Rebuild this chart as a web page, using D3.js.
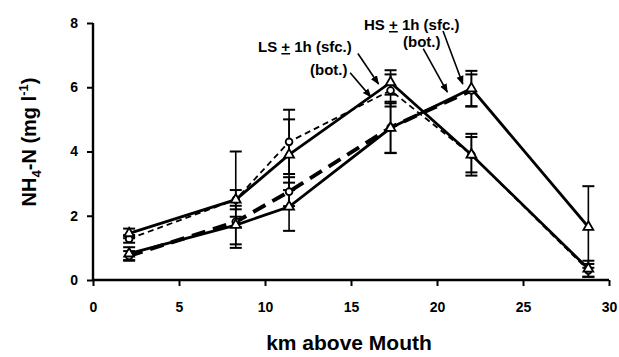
<!DOCTYPE html>
<html><head><meta charset="utf-8">
<script src="https://cdn.jsdelivr.net/npm/d3@7"></script>
<style>
body{margin:0;background:#fff;}
text{font-family:"Liberation Sans",Arial,sans-serif;font-weight:bold;fill:#000;}
</style></head>
<body><svg id="c" width="619" height="357"></svg>
<script>
const km = [2.1, 8.3, 11.4, 17.3, 22.0, 28.8];
const lsSfc = [1.45, 2.5, 3.9, 6.15, 3.9, 0.35];
const lsSfcErr = [0.15, 0.3, 1.1, 0.38, 0.55, 0.25];
const lsBot = [1.28, 2.5, 4.3, 5.9, 3.9, 0.3];
const lsBotErr = [0.12, 1.5, 1.0, 0.5, 0.65, 0.2];
const hsSfc = [0.82, 1.71, 2.28, 4.73, 5.96, 1.65];
const hsSfcErr = [0.2, 0.6, 0.75, 0.77, 0.55, 1.27];
const hsBot = [0.75, 1.81, 2.75, 4.75, 5.9, null];
const hsBotErr = [0.15, 0.16, 0.45, 0.8, 0.5, null];
const xTicks = [0, 5, 10, 15, 20, 25, 30];
const yTicks = [0, 2, 4, 6, 8];

const svg = d3.select("#c");
const x = d3.scaleLinear().domain([0, 30]).range([93, 609]);
const y = d3.scaleLinear().domain([0, 8]).range([280, 23]);

const series = [
  {v: lsBot, e: lsBotErr, w: 1.8, dash: "6,4", m: "circle"},
  {v: hsBot, e: hsBotErr, w: 4, dash: "14,8", m: "circle"},
  {v: lsSfc, e: lsSfcErr, w: 2.8, dash: null, m: "triangle"},
  {v: hsSfc, e: hsSfcErr, w: 2.8, dash: null, m: "triangle"}
];

// error bars
series.forEach(s => {
  const g = svg.append("g");
  km.forEach((k, i) => {
    if (s.v[i] == null || s.e[i] == null) return;
    const cx = x(k), y1 = y(s.v[i] + s.e[i]), y2 = y(Math.max(0, s.v[i] - s.e[i]));
    g.append("line").attr("x1", cx).attr("x2", cx).attr("y1", y1).attr("y2", y2).attr("stroke", "#000").attr("stroke-width", 1.6);
    [y1, y2].forEach(yy => g.append("line").attr("x1", cx - 6).attr("x2", cx + 6).attr("y1", yy).attr("y2", yy).attr("stroke", "#000").attr("stroke-width", 2));
  });
});

// lines
series.forEach(s => {
  const pts = km.map((k, i) => [k, s.v[i]]).filter(p => p[1] != null);
  svg.append("path").datum(pts)
    .attr("d", d3.line().x(d => x(d[0])).y(d => y(d[1])))
    .attr("fill", "none").attr("stroke", "#000").attr("stroke-width", s.w)
    .attr("stroke-dasharray", s.dash);
});

// markers
series.forEach(s => {
  const pts = km.map((k, i) => [k, s.v[i]]).filter(p => p[1] != null);
  const sym = d3.symbol().type(s.m === "circle" ? d3.symbolCircle : d3.symbolTriangle).size(s.m === "circle" ? 36 : 42);
  svg.append("g").selectAll("path").data(pts).join("path")
    .attr("transform", d => `translate(${x(d[0])},${y(d[1])})`)
    .attr("d", sym).attr("fill", "#fff").attr("stroke", "#000").attr("stroke-width", 1.8);
});

// axes
const xa = svg.append("g").attr("transform", "translate(0,280)")
  .call(d3.axisBottom(x).tickValues(xTicks).tickSize(6).tickPadding(16).tickFormat(d3.format("d")));
const ya = svg.append("g").attr("transform", "translate(93,0)")
  .call(d3.axisLeft(y).tickValues(yTicks).tickSize(6).tickPadding(9).tickFormat(d3.format("d")));
[xa, ya].forEach(a => {
  a.select(".domain").attr("stroke-width", 2.4).attr("stroke", "#000");
  a.selectAll(".tick line").attr("stroke-width", 2).attr("stroke", "#000");
  a.selectAll("text").style("font-size", "14px").style("font-family", "Liberation Sans, Arial, sans-serif").style("font-weight", "bold");
});
xa.select(".domain").attr("d", "M93,0H609");
ya.select(".domain").attr("d", "M0,23V280");

// axis titles
svg.append("text").attr("x", 349).attr("y", 350).attr("text-anchor", "middle").style("font-size", "21px").text("km above Mouth");
const yt = svg.append("text").attr("transform", "translate(36,142) rotate(-90)").attr("text-anchor", "middle").style("font-size", "20px");
yt.append("tspan").text("NH");
yt.append("tspan").attr("dy", 5).style("font-size", "13px").text("4");
yt.append("tspan").attr("dy", -5).text("-N (mg l");
yt.append("tspan").attr("dy", -8).style("font-size", "13px").text("-1");
yt.append("tspan").attr("dy", 8).text(")");

// annotations
svg.append("defs").append("marker").attr("id", "ah").attr("viewBox", "0 0 10 10").attr("refX", 9).attr("refY", 5)
  .attr("markerWidth", 9).attr("markerHeight", 9).attr("markerUnits", "userSpaceOnUse").attr("orient", "auto")
  .append("path").attr("d", "M0,1L10,5L0,9Z").attr("fill", "#000");

function label(tx, ty, parts) {
  const t = svg.append("text").attr("x", tx).attr("y", ty).style("font-size", "15px");
  parts.forEach(p => { const s = t.append("tspan").text(p[0]); if (p[1]) s.style("text-decoration", "underline"); });
}
label(258, 52, [["LS "], ["+", true], [" 1h (sfc.)"]]);
label(310, 75, [["(bot.)"]]);
label(364, 30, [["HS "], ["+", true], [" 1h (sfc.)"]]);
label(403, 47, [["(bot.)"]]);

const arrows = [
  [[15.4, 7.05], [16.6, 6.1]],
  [[14.95, 6.45], [16.15, 5.7]],
  [[20.35, 7.75], [21.5, 6.1]],
  [[19.2, 7.2], [20.6, 5.85]]
];
arrows.forEach(a => svg.append("line")
  .attr("x1", x(a[0][0])).attr("y1", y(a[0][1])).attr("x2", x(a[1][0])).attr("y2", y(a[1][1]))
  .attr("stroke", "#000").attr("stroke-width", 1.6).attr("marker-end", "url(#ah)"));
</script></body></html>
